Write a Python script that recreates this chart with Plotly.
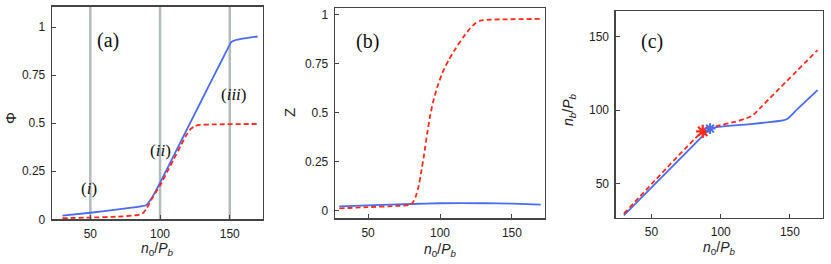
import plotly.graph_objects as go

# ---------------- data ----------------
# panel (a): Phi vs n0/Pb
a_blue_x = [30, 50, 70, 90, 93, 96, 100, 110, 120, 130, 140, 148, 151, 155, 162, 170]
a_blue_y = [0.019, 0.034, 0.052, 0.073, 0.10, 0.135, 0.19, 0.334, 0.478, 0.622, 0.766, 0.88, 0.922, 0.934, 0.943, 0.951]
a_red_x = [30, 50, 70, 83, 86, 88, 90, 92, 94, 97, 100, 105, 110, 115, 119, 122, 125, 128, 140, 170]
a_red_y = [0.006, 0.009, 0.014, 0.021, 0.026, 0.034, 0.052, 0.077, 0.105, 0.14, 0.175, 0.245, 0.315, 0.385, 0.44, 0.47, 0.485, 0.491, 0.494, 0.496]
guide_x = [50, 100, 150]
region_labels = ["(<i>i</i>)", "(<i>ii</i>)", "(<i>iii</i>)"]
region_x = [49, 100, 153]
region_y = [0.16, 0.36, 0.65]

# panel (b): Z vs n0/Pb
b_blue_x = [30, 50, 80, 100, 130, 150, 170]
b_blue_y = [0.022, 0.027, 0.034, 0.038, 0.038, 0.036, 0.031]
b_red_x = [30, 50, 70, 79, 81, 83, 85, 87, 89, 91, 93, 95, 98, 102, 106, 111, 116, 121, 125, 128, 135, 170]
b_red_y = [0.012, 0.018, 0.024, 0.029, 0.04, 0.07, 0.12, 0.2, 0.29, 0.39, 0.48, 0.55, 0.63, 0.71, 0.77, 0.83, 0.885, 0.932, 0.96, 0.971, 0.976, 0.98]

# panel (c): nb/Pb vs n0/Pb
c_blue_x = [30, 87, 90, 93, 97, 110, 120, 135, 145, 148, 151, 155, 170]
c_blue_y = [28.7, 82.5, 85.6, 87.5, 88.5, 89.6, 90.4, 91.8, 93.0, 94.0, 96.5, 100.3, 113.6]
c_red_x = [30, 87, 92, 97, 110, 118, 122, 125, 128, 170]
c_red_y = [29.8, 85.8, 87.9, 89.2, 92.0, 94.3, 95.8, 98.0, 101.0, 140.7]
c_red_star = (87, 85.6)
c_blue_star = (92.3, 87.5)

# ---------------- style ----------------
BLUE = "#4a6cf0"
RED = "#ff2a1a"
GRAY = "#b3bbbb"
FRAME = "#444444"
W, H = 831, 264
SANS = "Liberation Sans, Arial, sans-serif"
SERIF = "Liberation Serif, Times New Roman, serif"

fig = go.Figure()

def line(x, y, color, dash, ax):
    fig.add_trace(go.Scatter(x=x, y=y, mode="lines", xaxis="x" + ax, yaxis="y" + ax,
                             line=dict(color=color, width=1.8, dash=dash, shape="spline", smoothing=0.4),
                             showlegend=False, hoverinfo="skip"))

# guide lines in (a)
for gx in guide_x:
    fig.add_shape(type="line", xref="x", yref="y domain", x0=gx, x1=gx, y0=0, y1=1,
                  line=dict(color=GRAY, width=2.5), layer="below")

line(a_blue_x, a_blue_y, BLUE, "solid", "")
line(a_red_x, a_red_y, RED, "5px,3px", "")
line(b_blue_x, b_blue_y, BLUE, "solid", "2")
line(b_red_x, b_red_y, RED, "5px,3px", "2")
line(c_blue_x, c_blue_y, BLUE, "solid", "3")
line(c_red_x, c_red_y, RED, "5px,3px", "3")

fig.add_trace(go.Scatter(x=[c_red_star[0]], y=[c_red_star[1]], mode="markers", xaxis="x3", yaxis="y3",
                         marker=dict(symbol="asterisk-open", size=11, color=RED, line=dict(color=RED, width=2.2)),
                         showlegend=False, hoverinfo="skip"))
fig.add_trace(go.Scatter(x=[c_blue_star[0]], y=[c_blue_star[1]], mode="markers", xaxis="x3", yaxis="y3",
                         marker=dict(symbol="asterisk-open", size=9, color=BLUE, line=dict(color=BLUE, width=2)),
                         showlegend=False, hoverinfo="skip"))

def px_dom(a, b):
    return [a / W, b / W]

def py_dom(top, bottom):
    return [1 - bottom / H, 1 - top / H]

axis_common = dict(showline=True, mirror=True, linecolor=FRAME, linewidth=1.3,
                   ticks="inside", ticklen=4, tickcolor=FRAME, tickwidth=1,
                   showgrid=False, zeroline=False, automargin=False,
                   tickfont=dict(family=SANS, size=12, color="#222"))

xt = dict(tickvals=[50, 100, 150], ticktext=["50", "100", "150"], ticklabelstandoff=3)
yt01 = dict(tickvals=[0, 0.25, 0.5, 0.75, 1], ticktext=["0", "0.25", "0.5", "0.75", "1"], ticklabelstandoff=3)

fig.update_layout(
    width=W, height=H, margin=dict(l=0, r=0, t=0, b=0),
    paper_bgcolor="white", plot_bgcolor="white",
    xaxis=dict(domain=px_dom(52, 262.5), range=[22.5, 173.5], anchor="y", **axis_common, **xt),
    yaxis=dict(domain=py_dom(6.5, 219.3), range=[0, 1.107], anchor="x", **axis_common, **yt01),
    xaxis2=dict(domain=px_dom(335, 545), range=[27, 173], anchor="y2", **axis_common, **xt),
    yaxis2=dict(domain=py_dom(8.3, 218.3), range=[-0.039, 1.034], anchor="x2", **axis_common, **yt01),
    xaxis3=dict(domain=px_dom(615.7, 822.7), range=[24.1, 173.7], anchor="y3", **axis_common, **xt),
    yaxis3=dict(domain=py_dom(11, 217.5), range=[27.2, 167.2], anchor="x3", **axis_common,
                tickvals=[50, 100, 150], ticktext=["50", "100", "150"], ticklabelstandoff=3),
)

ann = []
xtitle = "<i>n</i><sub>0</sub>/<i>P</i><sub><i>b</i></sub>"
for cx, cy in [(157.3, 249), (440.5, 250), (718.7, 248)]:
    ann.append(dict(text=xtitle, x=cx / W, y=1 - cy / H, xref="paper", yref="paper",
                    showarrow=False, xanchor="center", yanchor="middle",
                    font=dict(family=SANS, size=14, color="#222")))
for t, cx, cy in [("Φ", 10, 118), ("Z", 290, 113), ("<i>n</i><sub><i>b</i></sub>/<i>P</i><sub><i>b</i></sub>", 569, 110)]:
    ann.append(dict(text=t, x=cx / W, y=1 - cy / H, xref="paper", yref="paper", textangle=-90,
                    showarrow=False, xanchor="center", yanchor="middle",
                    font=dict(family=SANS, size=15 if t in ("Φ", "Z") else 14, color="#222")))
for t, ax, x, y in [("(a)", "", 63, 0.93), ("(b)", "2", 49.5, 0.864), ("(c)", "3", 50.6, 146.4)]:
    ann.append(dict(text=t, x=x, y=y, xref="x" + ax, yref="y" + ax, showarrow=False,
                    xanchor="center", yanchor="middle", font=dict(family=SERIF, size=20, color="#111")))
for t, x, y in zip(region_labels, region_x, region_y):
    ann.append(dict(text=t, x=x, y=y, xref="x", yref="y", showarrow=False,
                    xanchor="center", yanchor="middle", font=dict(family=SERIF, size=17, color="#111")))
fig.update_layout(annotations=ann)

fig.write_html("out.html", config={"displayModeBar": False, "staticPlot": True},
               post_script="document.body.style.margin='0px';document.body.style.overflow='hidden';")
